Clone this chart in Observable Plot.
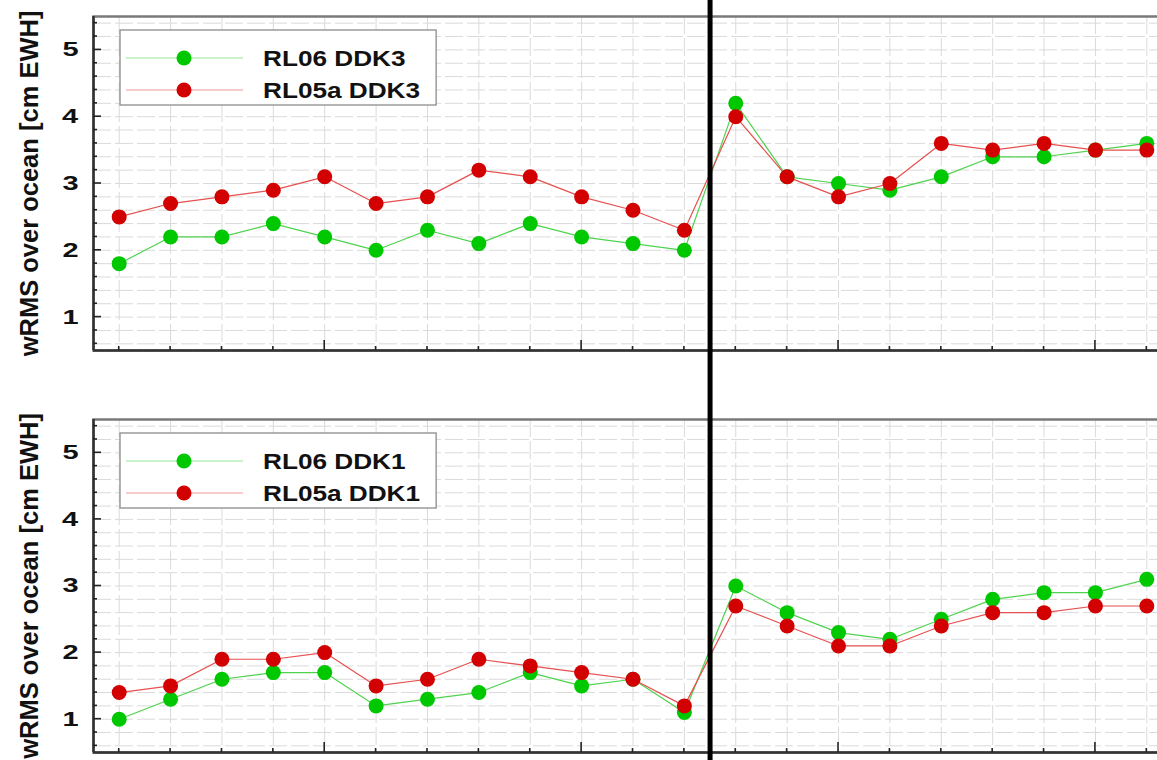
<!DOCTYPE html>
<html>
<head>
<meta charset="utf-8">
<script src="https://cdn.jsdelivr.net/npm/d3@7"></script>
<script src="https://cdn.jsdelivr.net/npm/@observablehq/plot@0.6"></script>
<style>
  html, body { margin: 0; padding: 0; background: #fff; }
  #chart { width: 1157px; height: 760px; overflow: hidden; position: relative; }
  #chart svg { display: block; max-width: none !important; }
</style>
</head>
<body>
<div id="chart"></div>
<script>
// Monthly solution index along the horizontal axis
const epochs = [0, 1, 2, 3, 4, 5, 6, 7, 8, 9, 10, 11, 12, 13, 14, 15, 16, 17, 18, 19, 20];
const majorEpochTicks = [4, 9, 14, 19];

// wRMS over ocean [cm EWH], DDK3-filtered solutions
const rl06Ddk3  = [1.8, 2.2, 2.2, 2.4, 2.2, 2.0, 2.3, 2.1, 2.4, 2.2, 2.1, 2.0, 4.2, 3.1, 3.0, 2.9, 3.1, 3.4, 3.4, 3.5, 3.6];
const rl05aDdk3 = [2.5, 2.7, 2.8, 2.9, 3.1, 2.7, 2.8, 3.2, 3.1, 2.8, 2.6, 2.3, 4.0, 3.1, 2.8, 3.0, 3.6, 3.5, 3.6, 3.5, 3.5];

// wRMS over ocean [cm EWH], DDK1-filtered solutions
const rl06Ddk1  = [1.0, 1.3, 1.6, 1.7, 1.7, 1.2, 1.3, 1.4, 1.7, 1.5, 1.6, 1.1, 3.0, 2.6, 2.3, 2.2, 2.5, 2.8, 2.9, 2.9, 3.1];
const rl05aDdk1 = [1.4, 1.5, 1.9, 1.9, 2.0, 1.5, 1.6, 1.9, 1.8, 1.7, 1.6, 1.2, 2.7, 2.4, 2.1, 2.1, 2.4, 2.6, 2.6, 2.7, 2.7];

const yTicks = [1, 2, 3, 4, 5];
const yLabel = "wRMS over ocean [cm EWH]";
const breakAt = 11.5;            // separator between the two processing periods
const xDomain = [-0.5, 20.5];
const yDomain = [0.5, 5.5];
const yMinor = d3.range(6, 55, 2).map(d => d / 10);

const FONT = "'Liberation Sans', Arial, Helvetica, sans-serif";
const GREEN = {dot: "#00c800", line: "#4fd34f", key: "#96e896"};
const RED   = {dot: "#d20000", line: "#e65050", key: "#f29a9a"};
const GRID = "#dadada";

// Legend box drawn in the upper-left corner of the frame
function legendMark(series) {
  return (index, scales, values, dims) => {
    const g = d3.create("svg:g");
    const x0 = dims.marginLeft + 27, y0 = dims.marginTop + 14;
    const stretch = 1.19;
    const ctx = document.createElement("canvas").getContext("2d");
    ctx.font = `bold 22px ${FONT}`;
    const tw = d3.max(series, s => ctx.measureText(s.name).width) * stretch;
    g.append("rect")
      .attr("x", x0).attr("y", y0)
      .attr("width", 143 + tw + 16).attr("height", 75)
      .attr("fill", "#fff").attr("stroke", "#8c8c8c").attr("stroke-width", 1.3);
    series.forEach((s, i) => {
      const cy = y0 + 28 + i * 32;
      g.append("line")
        .attr("x1", x0 + 6).attr("x2", x0 + 123).attr("y1", cy).attr("y2", cy)
        .attr("stroke", s.color.key).attr("stroke-width", 1.2);
      g.append("circle")
        .attr("cx", x0 + 64).attr("cy", cy).attr("r", 7.5).attr("fill", s.color.dot);
      g.append("text")
        .attr("transform", `translate(${x0 + 143},${cy + 8}) scale(${stretch},1)`)
        .attr("text-anchor", "start")
        .attr("font-family", FONT).attr("font-size", 22).attr("font-weight", "bold")
        .attr("fill", "#111")
        .text(s.name);
    });
    return g.node();
  };
}

// Inward-pointing tick marks on the left and bottom frame edges
function frameTicks() {
  return (index, {x, y}, values, dims) => {
    const g = d3.create("svg:g").attr("stroke", "#222").attr("stroke-width", 1.6);
    const left = dims.marginLeft;
    const bottom = dims.height - dims.marginBottom;
    for (const v of yMinor) {
      g.append("line")
        .attr("x1", left).attr("x2", left + (Number.isInteger(v) ? 8 : 4))
        .attr("y1", y(v)).attr("y2", y(v));
    }
    for (const e of epochs) {
      g.append("line")
        .attr("x1", x(e)).attr("x2", x(e))
        .attr("y1", bottom).attr("y2", bottom - (majorEpochTicks.includes(e) ? 10 : 4));
    }
    return g.node();
  };
}

function panel({series, height, marginTop, marginBottom}) {
  const rows = s => epochs.map((e, i) => ({epoch: e, value: s.values[i]}));
  const marks = [
    Plot.gridY(yMinor, {stroke: GRID, strokeOpacity: 1, strokeDasharray: "18,4"}),
    Plot.gridX(epochs, {stroke: GRID, strokeOpacity: 1, strokeDasharray: "18,4"}),
    legendMark(series)
  ];
  for (const s of series) {
    marks.push(
      Plot.line(rows(s), {x: "epoch", y: "value", stroke: s.color.line, strokeWidth: 1.2}),
      Plot.dot(rows(s), {x: "epoch", y: "value", r: 7.5, fill: s.color.dot})
    );
  }
  marks.push(
    Plot.frame({stroke: "#7a7a7a", strokeWidth: 2.5}),
    Plot.ruleX([xDomain[0]], {stroke: "#333", strokeWidth: 2.5}),
    Plot.ruleY([yDomain[0]], {stroke: "#333", strokeWidth: 2.5}),
    frameTicks(),
    Plot.axisY(yTicks, {tickSize: 0, tickPadding: 15, fontSize: 20, fontWeight: "bold",
                        tickFormat: d => String(d), label: null}),
    Plot.text([yLabel], {frameAnchor: "left", rotate: -90, dx: -64, fontSize: 25.5,
                         fontWeight: "bold", fill: "#111", textAnchor: "middle"}),
    Plot.ruleX([breakAt], {stroke: "#000", strokeWidth: 5,
                           insetTop: -marginTop, insetBottom: -marginBottom})
  );
  return Plot.plot({
    width: 1180,
    height,
    marginLeft: 93,
    marginRight: 8,
    marginTop,
    marginBottom,
    style: {fontFamily: FONT, color: "#111", background: "#fff", overflow: "visible", maxWidth: "none"},
    x: {domain: xDomain, axis: null},
    y: {domain: yDomain},
    marks
  });
}

// Stretch text horizontally about its right (anchor) edge
function stretchText(el, s) {
  const b = el.getBBox();
  const xr = b.x + b.width;
  const t = el.getAttribute("transform") || "";
  el.setAttribute("transform", `${t} translate(${xr},0) scale(${s},1) translate(${-xr},0)`);
}

const chartEl = document.getElementById("chart");
const panelDdk3 = panel({
  series: [
    {name: "RL06 DDK3", values: rl06Ddk3, color: GREEN},
    {name: "RL05a DDK3", values: rl05aDdk3, color: RED}
  ],
  height: 385, marginTop: 16, marginBottom: 35
});
const panelDdk1 = panel({
  series: [
    {name: "RL06 DDK1", values: rl06Ddk1, color: GREEN},
    {name: "RL05a DDK1", values: rl05aDdk1, color: RED}
  ],
  height: 375, marginTop: 34, marginBottom: 8
});
chartEl.append(panelDdk3, panelDdk1);

const tickStrings = new Set(yTicks.map(String));
for (const svg of [panelDdk3, panelDdk1]) {
  svg.querySelectorAll("text").forEach(t => {
    if (tickStrings.has(t.textContent.trim())) stretchText(t, 1.45);
  });
}
</script>
</body>
</html>
